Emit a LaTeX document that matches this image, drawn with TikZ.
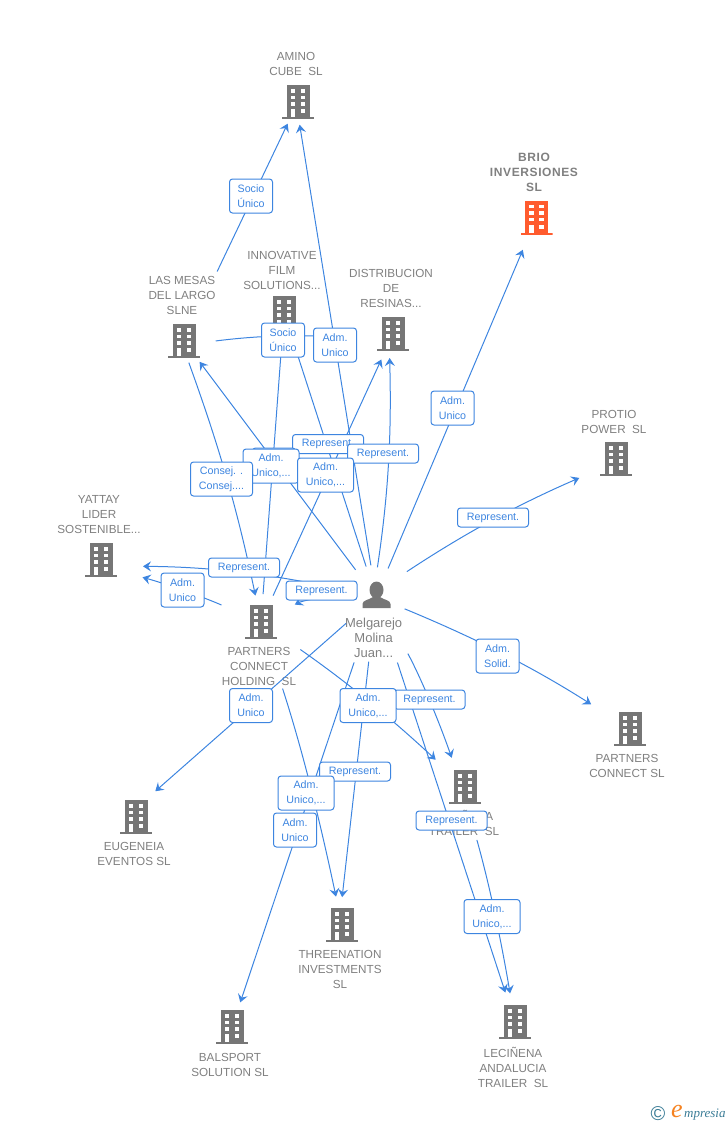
\documentclass[tikz,border=0pt]{standalone}
\usepackage{fontspec}
\setmainfont{Liberation Sans}
\newfontfamily\briofont[LetterSpace=5]{Liberation Sans}
\newfontfamily\logofont{Liberation Serif}
\usepackage{xcolor}
\definecolor{LinkColor}{RGB}{61,133,224}
\definecolor{NameColor}{RGB}{128,128,128}
\definecolor{OfficeColor}{RGB}{118,118,118}
\definecolor{BrioColor}{RGB}{255,91,46}
\definecolor{LogoBlue}{RGB}{58,124,150}
\definecolor{LogoOrange}{RGB}{245,130,32}
\usetikzlibrary{positioning, arrows.meta}

\begin{document}
\begin{tikzpicture}[
    x=1pt, y=-1pt,
    every node/.style={inner sep=0pt, align=center},
    office/.style={minimum width=32pt, minimum height=34pt, path picture={
        \begin{scope}[shift={(path picture bounding box.center)}]
            \fill[#1] (-11.5,-17) rectangle (11.5,15);
            \fill[#1] (-16,15) rectangle (16,17);
            \foreach \wy in {-13,-6.5,0} {
                \fill[white] (-7.3,\wy) rectangle ++(4.6,3.5);
                \fill[white] (2.7,\wy) rectangle ++(4.6,3.5);
            }
            \fill[white] (-7.3,7) rectangle (-2.7,15);
            \fill[white] (2.7,7) rectangle (7.3,11);
        \end{scope}
    }},
    office/.default=OfficeColor,
    person/.style={minimum width=34pt, minimum height=34pt, path picture={
        \begin{scope}[shift={(path picture bounding box.center)}]
            \fill[OfficeColor] (0.5,-7) ellipse [x radius=7, y radius=8.5];
            \fill[OfficeColor] (-13.5,11) -- (-13.5,7) .. controls (-13.5,3) and (-7,3) .. (-3,0)
                -- (4,0) .. controls (8,3) and (14.5,3) .. (14.5,7) -- (14.5,11) -- cycle;
        \end{scope}
    }},
    firm/.style={text=NameColor, font=\fontsize{11.7}{15}\selectfont},
    tag/.style={draw=LinkColor, line width=1pt, rounded corners=3pt, fill=white, text=LinkColor,
        font=\fontsize{10.7}{15}\selectfont, minimum height=34pt},
    tagline/.style={tag, minimum width=71pt, minimum height=19pt},
    tagshort/.style={tag, minimum width=43pt},
    taglong/.style={tag, minimum width=56pt},
    link/.style={-{Stealth[length=8pt, width=10pt, inset=3pt]}, line width=1pt, LinkColor},
]

\useasboundingbox (0,0) rectangle (728,1125);

% Companies
\node[office] (amino) at (298,102) {};
\node[office=BrioColor] (brio) at (536.5,217.5) {};
\node[office] (innovative) at (284,313) {};
\node[office] (lasmesas) at (184,341) {};
\node[office] (distribucion) at (393,334) {};
\node[office] (protio) at (616,459) {};
\node[office] (yattay) at (101,560) {};
\node[office] (holding) at (261,622) {};
\node[office] (connect) at (630,729) {};
\node[office] (eugeneia) at (136,817) {};
\node[office] (trailer) at (465,787) {};
\node[office] (threenation) at (342,925) {};
\node[office] (balsport) at (232,1027) {};
\node[office] (andalucia) at (515,1022) {};
\node[person] (melgarejo) at (376,597) {};

% Names
\node[firm] (aminoName) at (296,64) {AMINO\\CUBE\ \ SL};
\node[firm, font=\fontsize{12}{15}\selectfont\briofont\bfseries] (brioName) at (534,172) {BRIO\\INVERSIONES\\SL};
\node[firm] (innovativeName) at (282,270.5) {INNOVATIVE\\FILM\\SOLUTIONS...};
\node[firm] (lasmesasName) at (182,295.5) {LAS MESAS\\DEL LARGO\\SLNE};
\node[firm] (distribucionName) at (391,288.5) {DISTRIBUCION\\DE\\RESINAS...};
\node[firm] (protioName) at (614,422) {PROTIO\\POWER\ \ SL};
\node[firm] (yattayName) at (99,514.5) {YATTAY\\LIDER\\SOSTENIBLE...};
\node[firm] (holdingName) at (259,666.5) {PARTNERS\\CONNECT\\HOLDING\ \ SL};
\node[firm] (connectName) at (627,766) {PARTNERS\\CONNECT SL};
\node[firm] (eugeneiaName) at (134,854) {EUGENEIA\\EVENTOS SL};
\node[firm] (trailerName) at (464,823) {LECIÑENA\\TRAILER\ \ SL};
\node[firm] (threenationName) at (340,969.5) {THREENATION\\INVESTMENTS\\SL};
\node[firm] (balsportName) at (230,1065) {BALSPORT\\SOLUTION SL};
\node[firm] (andaluciaName) at (513,1067.5) {LECIÑENA\\ANDALUCIA\\TRAILER\ \ SL};
\node[firm, font=\fontsize{13}{15}\selectfont] (melgarejoName) at (373.6,638) {Melgarejo\\Molina\\Juan...};

% Links
\draw[link, shorten <=77pt, shorten >=24pt] (lasmesas.center) -- (amino.center);
\draw[link, shorten <=32pt, shorten >=23pt] (melgarejo.center) -- ([xshift=-2pt]amino.center);
\draw[link, shorten <=32pt, shorten >=45pt] ([yshift=-4pt]lasmesas.center) to[bend left=7] ([yshift=-10pt]distribucion.center);
\draw[link, shorten <=32pt, shorten >=24pt] (melgarejo.center) -- (innovative.center);
\draw[link, shorten <=28pt, shorten >=24pt] (holding.center) -- (innovative.center);
\draw[link, shorten <=34pt, shorten >=26pt] (melgarejo.center) -- (lasmesas.center);
\draw[link, shorten <=23pt, shorten >=27pt] ([xshift=-3pt]lasmesas.center) to[bend left=4] (holding.center);
\draw[link, shorten <=29pt, shorten >=28pt] (holding.center) -- (distribucion.center);
\draw[link, shorten <=30pt, shorten >=24pt] ([xshift=-3pt]melgarejo.center) to[bend right=5] ([xshift=-4pt]distribucion.center);
\draw[link, shorten <=31pt, shorten >=35pt] (melgarejo.center) -- (brio.center);
\draw[link, shorten <=37pt, shorten >=40pt] ([yshift=5pt]melgarejo.center) to[bend left=5] ([yshift=-3pt]protio.center);
\draw[link, shorten <=31pt, shorten >=46pt] (melgarejo.center) to[bend left=5] (connect.center);
\draw[link, shorten <=35pt, shorten >=42pt] (melgarejo.center) to[bend right=6] ([yshift=-6pt]yattay.center);
\draw[link, shorten <=43pt, shorten >=43pt] (holding.center) to[bend right=4] ([yshift=-6pt]yattay.center);
\draw[link, shorten <=30pt, shorten >=38pt] (melgarejo.center) to[bend right=15] (holding.center);
\draw[link, shorten <=40pt, shorten >=39pt] (melgarejo.center) -- ([xshift=-10pt]eugeneia.center);
\draw[link, shorten <=69pt, shorten >=26pt] (melgarejo.center) -- (balsport.center);
\draw[link, shorten <=70pt, shorten >=29pt] (holding.center) to[bend left=3] (threenation.center);
\draw[link, shorten <=65pt, shorten >=28pt] (melgarejo.center) -- ([xshift=-3pt]threenation.center);
\draw[link, shorten <=48pt, shorten >=40pt] (holding.center) to[bend left=4] (trailer.center);
\draw[link, shorten <=65pt, shorten >=31pt] (melgarejo.center) to[bend left=5] ([xshift=-3pt]trailer.center);
\draw[link, shorten <=69pt, shorten >=31pt] (melgarejo.center) -- (andalucia.center);
\draw[link, shorten <=55pt, shorten >=29pt] ([xshift=-3pt]trailer.center) to[bend left=3] (andalucia.center);

% Tags
\node[tagshort] (tagAmino) at (251,196) {Socio\\Único};
\node[tagshort] (tagPeople) at (335,345) {Adm.\\Unico};
\node[tagshort] (tagMesas) at (283,340) {Socio\\Único};
\node[tagshort] (tagBrio) at (452.5,408) {Adm.\\Unico};
\node[tagline] (tagInnovative) at (328,444) {Represent.};
\node[tagline] (tagResinas) at (383,453.5) {Represent.};
\node[tagshort] (tagBehind) at (274,465) {};
\node[taglong] (tagFilm) at (271,466) {Adm.\\Unico,...};
\node[tag, minimum width=62pt] (tagConsej) at (221.5,479) {Consej. .\\Consej....};
\node[taglong] (tagHolding) at (325.5,475) {Adm.\\Unico,...};
\node[tagline] (tagProtio) at (493,517.5) {Represent.};
\node[tagline] (tagYattay) at (244,567.5) {Represent.};
\node[tagshort] (tagLider) at (182.5,590) {Adm.\\Unico};
\node[tagline] (tagPartners) at (321.5,590.5) {Represent.};
\node[tagshort] (tagConnect) at (497.5,656) {Adm.\\Solid.};
\node[tagshort] (tagEugeneia) at (251,705.5) {Adm.\\Unico};
\node[tagline] (tagTrailer) at (429.5,699.5) {Represent.};
\node[taglong] (tagSofia) at (368,705.5) {Adm.\\Unico,...};
\node[tagline] (tagThree) at (355,771.5) {Represent.};
\node[taglong] (tagInvest) at (306,793) {Adm.\\Unico,...};
\node[tagshort] (tagBalsport) at (295,830) {Adm.\\Unico};
\node[tagline] (tagLeci) at (451.5,820.5) {Represent.};
\node[taglong] (tagAndalucia) at (492,916.5) {Adm.\\Unico,...};

% Logo
\node[text=LogoBlue, font=\fontsize{20}{20}\selectfont] (logoCopy) at (658,1114) {©};
\node[text=LogoOrange, font=\fontsize{26}{26}\selectfont\logofont\itshape] (logoE) at (677,1111) {e};
\node[text=LogoBlue, font=\fontsize{13}{13}\selectfont\logofont\itshape, anchor=west] (logoRest) at (684,1115) {mpresia};

\end{tikzpicture}
\end{document}
